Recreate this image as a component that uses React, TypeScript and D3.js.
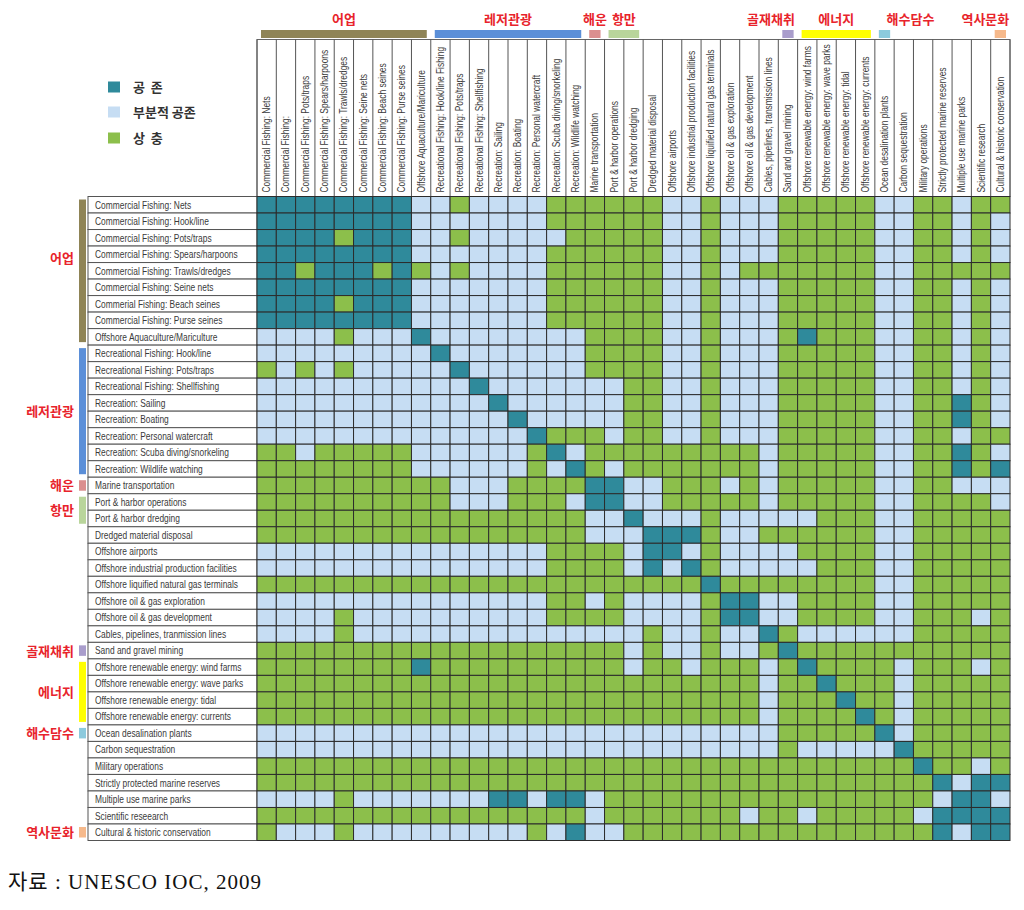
import React from 'react';
import * as d3 from 'd3';

// ---------- DATA ----------
const rowLabels = [
  'Commercial Fishing: Nets',
  'Commercial Fishing: Hook/line',
  'Commercial Fishing: Pots/traps',
  'Commercial Fishing: Spears/harpoons',
  'Commercial Fishing: Trawls/dredges',
  'Commercial Fishing: Seine nets',
  'Commerial Fishing: Beach seines',
  'Commercial Fishing: Purse seines',
  'Offshore Aquaculture/Mariculture',
  'Recreational Fishing: Hook/line',
  'Recreational Fishing: Pots/traps',
  'Recreational Fishing: Shellfishing',
  'Recreation: Sailing',
  'Recreation: Boating',
  'Recreation: Personal watercraft',
  'Recreation: Scuba diving/snorkeling',
  'Recreation: Wildlife watching',
  'Marine transportation',
  'Port & harbor operations',
  'Port & harbor dredging',
  'Dredged material disposal',
  'Offshore airports',
  'Offshore industrial production facilities',
  'Offshore liquified natural gas terminals',
  'Offshore oil & gas exploration',
  'Offshore oil & gas development',
  'Cables, pipelines, tranmission lines',
  'Sand and gravel mining',
  'Offshore renewable energy: wind farms',
  'Offshore renewable energy: wave parks',
  'Offshore renewable energy: tidal',
  'Offshore renewable energy: currents',
  'Ocean desalination plants',
  'Carbon sequestration',
  'Military operations',
  'Strictly protected marine reserves',
  'Multiple use marine parks',
  'Scientific reseearch',
  'Cultural & historic conservation',
];

const colLabels = [
  'Commercial Fishing: Nets',
  'Commercial Fishing:',
  'Commercial Fishing: Pots/traps',
  'Commercial Fishing: Spears/harpoons',
  'Commercial Fishing: Trawls/dredges',
  'Commercial Fishing: Seine nets',
  'Commercial Fishing: Beach seines',
  'Commercial Fishing: Purse seines',
  'Offshore Aquaculture/Mariculture',
  'Recreational Fishing: Hook/line Fishing',
  'Recreational Fishing: Pots/traps',
  'Recreational Fishing: Shellfishing',
  'Recreation: Sailing',
  'Recreation: Boating',
  'Recreation: Personal watercraft',
  'Recreation: Scuba diving/snorkeling',
  'Recreation: Wildlife watching',
  'Marine transportation',
  'Port & harbor operations',
  'Port & harbor dredging',
  'Dredged material disposal',
  'Offshore airports',
  'Offshore industrial production facilities',
  'Offshore liquified natural gas terminals',
  'Offshore oil & gas exploration',
  'Offshore oil & gas development',
  'Cables, pipelines, transmission lines',
  'Sand and gravel mining',
  'Offshore renewable energy: wind farms',
  'Offshore renewable energy: wave parks',
  'Offshore renewable energy: tidal',
  'Offshore renewable energy: currents',
  'Ocean desalination plants',
  'Carbon sequestration',
  'Military operations',
  'Strictly protected marine reserves',
  'Multiple use marine parks',
  'Scientific research',
  'Cultural & historic conservation',
];

// C = 공존 (compatible), P = 부분적 공존 (partially compatible), X = 상충 (conflict)
const matrixRows = [
  'CCCCCCCCPPXPPPPXXXXXXPPXPPPXXXXXPPXXPXX',
  'CCCCCCCCPPPPPPPXXXXXXPPXPPPXXXXXPPXXPXP',
  'CCCCXCCCPPXPPPPPXXXXXPPXPPPXXXXXPPXXPXP',
  'CCCCCCCCPPPPPPPXXXXXXPPXPPPXXXXXPPXXPXP',
  'CCXCCCXCXPXPPPPXXXXXXPPXPXXXXXXXPPXXXXX',
  'CCCCCCCCPPPPPPPXXXXXXPPXPPPXXXXXPPXXPXP',
  'CCCCXCCCPPPPPPPXXXXXXPPXPPPXXXXXPPXXPXP',
  'CCCCCCCCPPPPPPPXXXXXXPPXPPPXXXXXPPXXPXP',
  'PPPPXPPPCPPPPPPPPXXXXPPXPPPXCXXXPPXXPXP',
  'PPPPPPPPPCPPPPPPPXXXXPPXPPPXXXXXPPXXPXP',
  'XPXPXPPPPPCPPPPPPXXXXPPXPPPXXXXXPPXXPXP',
  'PPPPPPPPPPPCPPPPPPPXXPPXPPPXXXXXPPXXPXP',
  'PPPPPPPPPPPPCPPPPPPXXPPXPPPXXXXXPPXXCXP',
  'PPPPPPPPPPPPPCPPPPPXXPPXPPPXXXXXPPXXCXP',
  'PPPPPPPPPPPPPPCXXXPXXPPXPPPXXXXXPPXXPXX',
  'XXPXXXXXPPPPPPXCPXXXXXXXXXPXXXXXPPXXCXP',
  'XXXXXXXXPPPPPPXPCXPXXXXXXXPXXXXXPPXXCXC',
  'XXXXXXXXXXPPPXXXXCCPPXXXPXPXXXXXPPXXPPP',
  'XXXXXXXXXXPPPXXXPCCPPXXXXXPXXXXXPPXXXXP',
  'XXXXXXXXXXXXXXXXXPPCPPPXPPPPPXXXPPXXXXX',
  'XXXXXXXXXXXXXXXXXPPPCCCXPPXXXXXXPPXXXXX',
  'PPPPPPPPPPPPPPPXXXXPCCPXPPPPXXXXPPXXXXX',
  'PPPPPPPPPPPPPPPXXXXPCPCXPPPPPXXXPPXXXXX',
  'XXXXXXXXXXXXXXXXXXXXXXXCXXXXXXXXPPXXXXX',
  'PPPPPPPPPPPPPPPXXPXPPPPXCCPPXXXXPPXXXXX',
  'PPPPXPPPPPPPPPPXXXXPPPPXCCPPXXXXPPXXXPX',
  'PPPPXPPPPPPPPPPPPPPPXPPXPPCXPPPPPPXXXXX',
  'XXXXXXXXXXXXXXXXXXXPXPPXPPXCXXXXXXXXXXX',
  'XXXXXXXXCXXXXXXXXXXPXXPXXXPXCXXXXPXXXPX',
  'XXXXXXXXXXXXXXXXXXXXXXXXXXPXXCXXXPXXXXX',
  'XXXXXXXXXXXXXXXXXXXXXXXXXXPXXXCXXPXXXXX',
  'XXXXXXXXXXXXXXXXXXXXXXXXXXPXXXXCXPXXXXX',
  'PPPPPPPPPPPPPPPPPPPPPPPPPPPXXXXXCPXXXXX',
  'PPPPPPPPPPPPPPPPPPPPPPPPPPPXPPPPPCXXXXX',
  'XXXXXXXXXXXXXXXXXXXXXXXXXXXXXXXXXXCXXPX',
  'XXXXXXXXXXXXXXXXXXXXXXXXXXXXXXXXXXXCPCC',
  'PPPPXPPPPPPPCCPCCPXXXXXXXXXXXXXXXXXPCCP',
  'XXXXXXXXXXXXXXXXXPXXXXXXXPXXPXXXXXPCCCC',
  'XPPPXPPPPPPPPPXPCPPXXXXXXXXXXXXXXXXCPCC',
];

const statusKeys = ['C', 'P', 'X'];
const legendLabels = ['공  존', '부분적 공존', '상  충'];

const groupNames = ['어업', '레저관광', '해운', '항만', '골재채취', '에너지', '해수담수', '역사문화'];
const groupStart = [0, 9, 17, 18, 27, 28, 32, 38];
const groupEnd = [8, 16, 17, 19, 27, 31, 32, 38];

const sourceNote = '자료 : UNESCO IOC, 2009';

// ---------- STYLE ----------
const statusColors = ['#2f8a9b', '#c6ddf3', '#8cbf4b'];
const groupColors = ['#8f8456', '#5b8fd8', '#db8f8f', '#b9d59b', '#a99dcc', '#ffff00', '#8ccadd', '#f6b98b'];
const topLabelDx: Record<string, number> = { 골재채취: -17, 해수담수: 26, 역사문화: -15 };
const leftLabelDy: Record<string, number> = { 어업: -13 };
const labelFont = "'Liberation Sans', Arial, sans-serif";
const krFont = "'Noto Sans CJK KR', sans-serif";
const red = '#e8232b';
const textGray = '#3a3a3a';

export default function App() {
  const n = rowLabels.length;
  const gridLeft = 257;
  const gridRight = 1010;
  const gridTop = 196.5;
  const gridBottom = 840.5;
  const headerTop = 39.5;
  const labelLeft = 88;

  const x = d3.scaleBand<number>().domain(d3.range(n)).range([gridLeft, gridRight]);
  const y = d3.scaleBand<number>().domain(d3.range(n)).range([gridTop, gridBottom]);
  const color = d3.scaleOrdinal<string, string>().domain(statusKeys).range(statusColors);
  const cw = x.bandwidth();
  const rh = y.bandwidth();

  const cells: React.ReactNode[] = [];
  matrixRows.forEach((row, i) => {
    for (let j = 0; j < n; j++) {
      const s = row[j] || 'X';
      cells.push(
        <rect key={`c${i}-${j}`} x={x(j)} y={y(i)} width={cw} height={rh}
          fill={color(s)} stroke="#2c2c2c" strokeWidth={1} />
      );
    }
  });

  return (
    <svg width={1024} height={910} style={{ position: 'absolute', left: 0, top: 0, background: '#fff' }}>
      <rect x={0} y={0} width={1024} height={910} fill="#fff" />

      {/* Top group bars and labels */}
      {groupNames.map((g, k) => {
        const x0 = (x(groupStart[k]) as number) + 4;
        const x1 = (x(groupEnd[k]) as number) + cw - 4;
        return (
          <g key={`tg${k}`}>
            <rect x={x0} y={30} width={x1 - x0} height={8} fill={groupColors[k]} />
            <text x={(x0 + x1) / 2 + (topLabelDx[g] || 0)} y={24} textAnchor="middle"
              fontFamily={krFont} fontWeight="bold" fontSize={13} fill={red}>{g}</text>
          </g>
        );
      })}

      {/* Left group bars and labels */}
      {groupNames.map((g, k) => {
        const y0 = (y(groupStart[k]) as number) + 3;
        const y1 = (y(groupEnd[k]) as number) + rh - 3;
        return (
          <g key={`lg${k}`}>
            <rect x={79} y={y0} width={7} height={y1 - y0} fill={groupColors[k]} />
            <text x={74} y={(y0 + y1) / 2 + 5 + (leftLabelDy[g] || 0)} textAnchor="end"
              fontFamily={krFont} fontWeight="bold" fontSize={13} fill={red}>{g}</text>
          </g>
        );
      })}

      {/* Header box */}
      <rect x={gridLeft} y={headerTop} width={gridRight - gridLeft} height={gridTop - headerTop}
        fill="#fff" stroke="#666" strokeWidth={1} />
      {d3.range(n + 1).map((j) => {
        const xx = j < n ? (x(j) as number) : gridRight;
        return <line key={`hv${j}`} x1={xx} x2={xx} y1={headerTop} y2={gridTop} stroke="#555" strokeWidth={1} />;
      })}
      {colLabels.map((lab, j) => (
        <text key={`cl${j}`} transform={`translate(${(x(j) as number) + cw / 2 + 3.5},${gridTop - 4}) rotate(-90) scale(0.8,1)`}
          fontFamily={labelFont} fontSize={10.5} fill={textGray}>{lab}</text>
      ))}

      {/* Row label boxes */}
      {rowLabels.map((lab, i) => (
        <g key={`rl${i}`}>
          <rect x={labelLeft} y={y(i)} width={gridLeft - labelLeft} height={rh} fill="#fff" stroke="#555" strokeWidth={1} />
          <text transform={`translate(${labelLeft + 7},${(y(i) as number) + rh / 2 + 3.8}) scale(0.8,1)`}
            fontFamily={labelFont} fontSize={10.5} fill={textGray}>{lab}</text>
        </g>
      ))}

      {/* Matrix cells */}
      {cells}

      {/* Legend */}
      {statusKeys.map((s, k) => {
        const cy = [87, 112, 138][k];
        return (
          <g key={`lgd${k}`}>
            <rect x={108} y={cy - 5.5} width={12} height={11} fill={color(s)} />
            <text x={133} y={cy + 5} fontFamily={krFont} fontWeight="bold" fontSize={13}
              fill="#333" style={{ whiteSpace: 'pre' }}>{legendLabels[k]}</text>
          </g>
        );
      })}

      {/* Source */}
      <text x={8} y={889} fontFamily="'Liberation Serif', 'Noto Sans CJK KR', serif" fontSize={21}
        letterSpacing={1} fill="#111">{sourceNote}</text>
    </svg>
  );
}
